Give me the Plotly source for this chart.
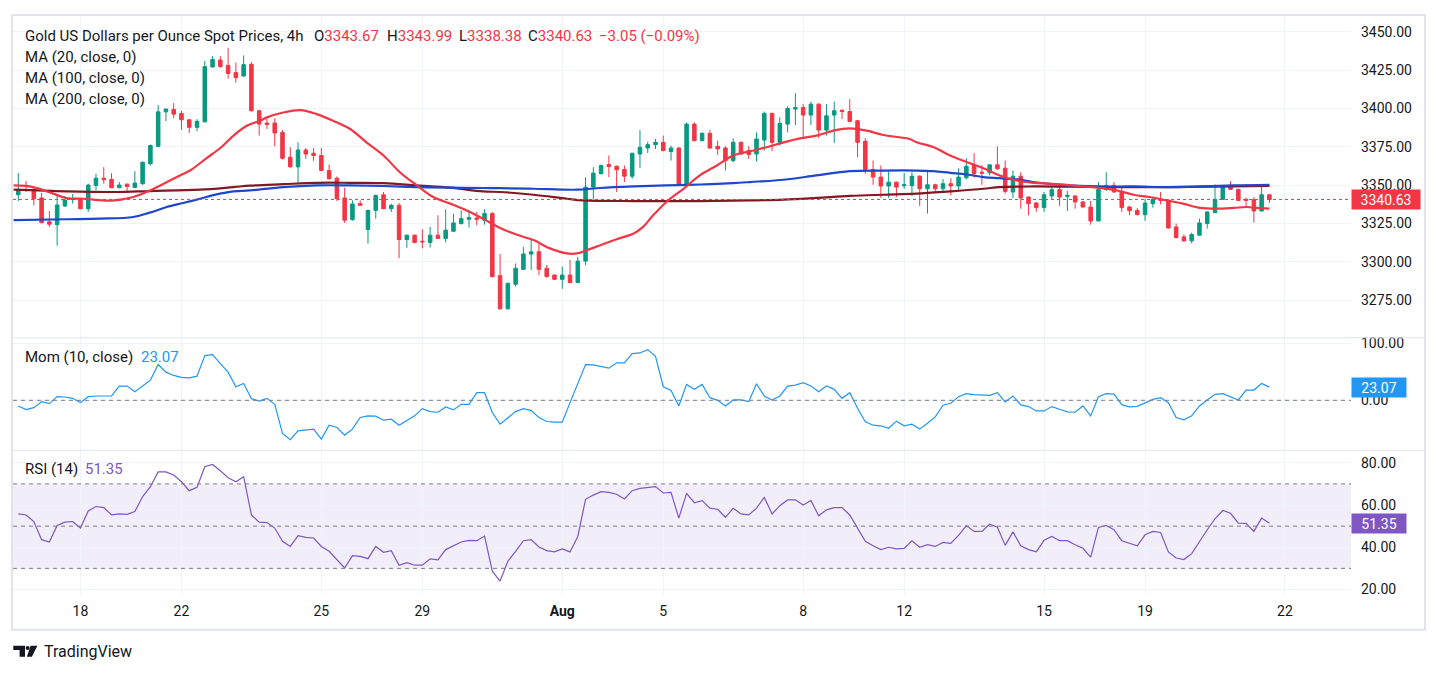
import plotly.graph_objects as go

# ---- candles, 4h, Jul 16 -> Aug 21 (index = bar number) ----
opens = [
    3343.7, 3349.8, 3347.2, 3341.6, 3326.0, 3324.2, 3336.4, 3340.5, 3340.9, 3334.6,
    3349.8, 3354.5, 3353.7, 3348.3, 3350.6, 3348.5, 3350.9, 3363.9, 3375.3, 3397.8,
    3399.4, 3396.8, 3392.6, 3387.7, 3391.3, 3427.1, 3431.6, 3428.1, 3423.4, 3421.2,
    3428.8, 3398.5, 3390.5, 3390.5, 3384.4, 3368.2, 3361.9, 3372.9, 3370.8, 3369.3,
    3359.5, 3354.5, 3341.6, 3327.5, 3337.9, 3321.0, 3333.5, 3343.7, 3334.6, 3336.8,
    3314.5, 3317.3, 3313.4, 3312.6, 3317.3, 3315.2, 3319.9, 3324.9, 3327.7, 3328.6,
    3327.1, 3331.4, 3290.9, 3269.3, 3285.3, 3295.0, 3305.0, 3306.5, 3295.7, 3291.3,
    3288.5, 3291.3, 3286.4, 3300.4, 3348.7, 3357.4, 3363.4, 3362.3, 3360.2, 3355.8,
    3370.3, 3374.2, 3376.4, 3377.9, 3371.9, 3374.2, 3350.9, 3389.8, 3379.0, 3383.8,
    3375.3, 3374.2, 3366.0, 3377.9, 3372.5, 3370.3, 3379.4, 3396.8, 3377.9, 3389.8,
    3399.6, 3400.6, 3395.7, 3402.8, 3385.9, 3395.7, 3398.9, 3398.0, 3392.0, 3378.6,
    3360.2, 3355.2, 3349.4, 3351.9, 3349.6, 3349.6, 3355.8, 3347.6, 3350.2, 3347.6,
    3350.9, 3349.4, 3354.8, 3363.2, 3358.4, 3358.0, 3363.2, 3361.0, 3345.5, 3355.8,
    3342.2, 3338.3, 3335.3, 3342.9, 3347.0, 3342.6, 3342.9, 3339.0, 3335.7, 3326.6,
    3347.2, 3349.8, 3345.9, 3335.7, 3333.5, 3330.7, 3337.9, 3340.7, 3340.0, 3322.7,
    3316.2, 3313.6, 3317.3, 3324.9, 3332.0, 3340.7, 3349.8, 3347.2, 3340.7, 3340.5,
    3333.1, 3343.67]
highs = [
    3357.8, 3352.6, 3348.7, 3345.0, 3333.1, 3342.9, 3342.9, 3344.2, 3341.6, 3350.9,
    3357.4, 3361.7, 3357.8, 3352.0, 3351.0, 3359.1, 3365.4, 3376.5, 3402.2, 3400.0,
    3403.5, 3398.5, 3393.0, 3393.0, 3431.0, 3434.2, 3434.2, 3439.6, 3429.9, 3434.6,
    3430.3, 3399.2, 3393.1, 3393.5, 3385.9, 3374.7, 3377.9, 3374.2, 3374.2, 3374.2,
    3363.4, 3355.6, 3348.3, 3340.0, 3340.0, 3333.9, 3343.7, 3345.5, 3337.9, 3338.3,
    3317.7, 3317.7, 3321.2, 3322.7, 3330.3, 3334.2, 3331.4, 3333.5, 3333.5, 3332.5,
    3334.2, 3332.5, 3305.0, 3286.3, 3298.9, 3309.7, 3314.7, 3311.5, 3297.8, 3291.7,
    3296.8, 3301.1, 3303.2, 3355.2, 3361.7, 3363.4, 3369.3, 3362.8, 3362.8, 3371.0,
    3385.9, 3378.4, 3380.1, 3382.3, 3375.8, 3374.7, 3390.9, 3390.9, 3384.4, 3386.0,
    3379.0, 3375.3, 3380.5, 3378.4, 3375.3, 3384.4, 3398.0, 3397.2, 3394.2, 3401.3,
    3410.0, 3402.8, 3404.5, 3403.5, 3402.8, 3404.5, 3399.2, 3406.1, 3392.4, 3380.7,
    3366.0, 3362.8, 3358.9, 3352.3, 3357.8, 3358.4, 3356.3, 3359.5, 3350.9, 3354.1,
    3354.5, 3361.0, 3367.5, 3370.8, 3363.0, 3363.4, 3375.3, 3366.0, 3359.5, 3358.4,
    3342.6, 3339.0, 3345.5, 3349.8, 3348.7, 3346.1, 3343.3, 3339.6, 3339.6, 3351.9,
    3358.4, 3352.0, 3349.4, 3336.4, 3335.0, 3341.1, 3342.2, 3345.5, 3340.7, 3324.9,
    3317.7, 3319.0, 3328.1, 3332.9, 3350.4, 3349.8, 3352.6, 3347.6, 3341.8, 3342.2,
    3348.7, 3343.99]
lows = [
    3339.6, 3345.5, 3336.8, 3325.0, 3322.7, 3310.4, 3335.7, 3337.9, 3334.2, 3332.5,
    3346.5, 3350.9, 3348.1, 3348.0, 3345.9, 3348.0, 3350.2, 3362.8, 3374.7, 3391.8,
    3393.7, 3385.9, 3384.0, 3385.1, 3390.9, 3426.6, 3426.6, 3419.5, 3416.9, 3420.8,
    3398.0, 3382.3, 3386.6, 3375.3, 3366.7, 3361.5, 3351.9, 3367.1, 3365.8, 3359.1,
    3353.7, 3339.6, 3325.3, 3326.6, 3336.4, 3311.9, 3328.1, 3334.2, 3332.5, 3302.2,
    3309.1, 3312.0, 3308.7, 3309.3, 3314.8, 3312.6, 3319.5, 3324.2, 3322.3, 3323.8,
    3324.2, 3289.6, 3268.6, 3268.6, 3283.8, 3294.6, 3294.6, 3291.3, 3289.6, 3288.1,
    3282.3, 3285.9, 3285.9, 3297.8, 3340.9, 3357.0, 3355.2, 3345.5, 3352.0, 3354.1,
    3361.3, 3371.0, 3373.6, 3372.1, 3366.0, 3350.4, 3350.2, 3378.6, 3378.6, 3373.6,
    3369.7, 3359.5, 3364.9, 3369.7, 3367.1, 3365.4, 3372.5, 3372.1, 3375.8, 3384.4,
    3389.2, 3381.2, 3389.2, 3380.7, 3382.3, 3377.5, 3393.1, 3391.0, 3368.2, 3357.4,
    3350.2, 3341.6, 3341.6, 3342.2, 3347.6, 3342.9, 3336.4, 3331.4, 3345.5, 3345.9,
    3343.3, 3345.9, 3353.7, 3354.8, 3350.2, 3356.3, 3359.9, 3344.4, 3341.6, 3334.6,
    3330.3, 3332.5, 3332.5, 3340.9, 3336.4, 3333.1, 3334.6, 3335.3, 3324.2, 3326.4,
    3346.1, 3345.0, 3332.5, 3330.3, 3330.3, 3326.6, 3335.3, 3337.4, 3321.6, 3315.2,
    3313.0, 3311.9, 3317.0, 3321.6, 3331.8, 3340.5, 3346.9, 3339.6, 3336.4, 3325.5,
    3332.9, 3338.38]
closes = [
    3347.2, 3349.1, 3341.1, 3325.5, 3324.5, 3337.0, 3340.3, 3341.1, 3334.6, 3350.0,
    3354.5, 3353.5, 3348.3, 3350.0, 3349.1, 3351.3, 3364.9, 3375.8, 3397.8, 3399.6,
    3396.3, 3392.6, 3387.7, 3391.6, 3427.3, 3432.0, 3427.3, 3422.9, 3420.1, 3428.6,
    3398.5, 3389.8, 3389.6, 3384.0, 3367.5, 3361.9, 3372.9, 3370.3, 3369.3, 3359.5,
    3354.1, 3341.1, 3327.1, 3337.7, 3336.8, 3333.5, 3343.3, 3334.6, 3336.8, 3314.5,
    3317.3, 3312.6, 3313.0, 3317.3, 3315.2, 3320.6, 3325.3, 3328.1, 3328.8, 3327.7,
    3331.4, 3290.3, 3269.3, 3285.9, 3295.7, 3305.0, 3306.5, 3295.0, 3290.3, 3288.5,
    3291.3, 3286.4, 3300.4, 3348.7, 3357.8, 3362.8, 3362.1, 3360.0, 3355.8, 3370.8,
    3374.7, 3376.4, 3377.9, 3372.5, 3374.2, 3350.9, 3389.8, 3379.0, 3383.8, 3374.2,
    3373.6, 3366.0, 3377.9, 3370.3, 3370.0, 3380.1, 3396.8, 3377.9, 3390.3, 3400.0,
    3400.6, 3395.7, 3402.8, 3385.9, 3395.2, 3398.5, 3398.0, 3391.6, 3377.9, 3360.2,
    3355.2, 3349.4, 3351.9, 3348.7, 3350.2, 3355.8, 3347.6, 3350.2, 3347.6, 3350.9,
    3349.4, 3355.2, 3362.3, 3357.4, 3357.8, 3363.2, 3360.6, 3345.9, 3355.8, 3341.6,
    3337.9, 3335.3, 3343.7, 3347.0, 3342.2, 3343.3, 3339.0, 3335.7, 3326.6, 3347.2,
    3349.8, 3345.5, 3335.3, 3333.3, 3330.7, 3338.3, 3340.7, 3340.0, 3322.0, 3315.8,
    3313.6, 3317.7, 3325.3, 3332.5, 3340.7, 3349.4, 3347.2, 3340.0, 3340.0, 3333.1,
    3343.68, 3340.63]

# ---- moving averages at bar positions ----
ma20_x = [-0.6, 1.9, 4.5, 6.2, 8.4, 12, 14.8, 16.5, 19.1, 20.8, 22.1, 24.2, 26, 27.7,
          29.4, 31.1, 32, 34.1, 36.3, 38.4, 40.5, 42.7, 44.8, 47, 49.1, 51.3, 53.4,
          55.6, 57.7, 59.8, 62, 64.1, 66.3, 68.4, 70.6, 71.9, 73.2, 74.9, 77, 79.2,
          80.4, 81.7, 83.4, 85.6, 87.7, 89.9, 92, 94.1, 96.3, 98.5, 100.6, 102.7,
          104.9, 107, 109.2, 111.3, 113.4, 114.7, 115.6, 117.8, 119.9, 122.1, 124.2,
          126.3, 128.5, 130.6, 132.8, 134.9, 137.1, 139.2, 141.4, 143.5, 145.6,
          147.8, 149.9, 152.1, 154.2, 156.4, 158.1, 159.4, 161]
ma20_y = [3349.8, 3348.7, 3344.4, 3341.6, 3341.1, 3339.8, 3342.2, 3345.5, 3351.9,
          3356.3, 3359.5, 3367.5, 3374.2, 3382.3, 3388.7, 3392.0, 3394.2, 3397.4,
          3398.9, 3396.3, 3392.0, 3386.6, 3377.9, 3369.3, 3358.4, 3349.8, 3342.2,
          3337.9, 3333.5, 3328.1, 3322.0, 3317.7, 3314.1, 3308.7, 3305.4, 3305.4,
          3307.6, 3310.8, 3314.7, 3318.4, 3322.7, 3330.3, 3339.0, 3347.6, 3356.3,
          3362.8, 3369.3, 3372.0, 3374.7, 3377.9, 3380.5, 3382.3, 3385.5, 3387.0,
          3385.5, 3382.7, 3381.2, 3380.1, 3377.9, 3374.7, 3369.3, 3364.9, 3361.0,
          3356.3, 3353.0, 3351.5, 3350.9, 3350.2, 3349.1, 3348.1, 3346.5, 3343.7,
          3342.2, 3340.0, 3337.9, 3335.1, 3334.6, 3335.1, 3335.7, 3335.1, 3334.6]
ma100_x = [-0.6, 6.2, 10.5, 14.8, 16.9, 19.1, 21.2, 23.4, 25.5, 27.7, 29.8, 34.1, 38.4,
           42.7, 47, 51.3, 55.6, 59.8, 62, 66.3, 71.9, 74.9, 79.2, 83.4, 87.7, 92,
           94.2, 98.5, 102.7, 107, 111.3, 115.6, 117.8, 119.9, 122.1, 124.2, 126.3,
           128.5, 130.6, 134.9, 139.2, 143.5, 147.8, 152.1, 156.4, 161]
ma100_y = [3327.1, 3327.7, 3328.1, 3329.2, 3332.0, 3335.7, 3338.3, 3341.1, 3343.9,
           3345.9, 3346.5, 3348.7, 3349.8, 3349.8, 3349.4, 3348.7, 3348.3, 3348.1,
           3348.0, 3347.6, 3347.0, 3348.1, 3349.1, 3349.8, 3350.4, 3351.3, 3352.0,
           3353.5, 3356.3, 3359.1, 3359.5, 3359.5, 3359.1, 3358.0, 3356.9, 3355.2,
           3354.5, 3353.7, 3352.0, 3349.8, 3349.1, 3349.1, 3348.7, 3349.1, 3349.8,
           3350.2]
ma200_x = [-0.6, 6.2, 12.6, 16.9, 23.4, 27.7, 29.8, 34.1, 38.4, 42.7, 47, 51.3, 55.6,
           59.8, 62, 66.3, 70.6, 72.7, 79.2, 87.7, 94.2, 98.5, 102.7, 107, 111.3,
           115.6, 119.9, 124.2, 126.3, 130.6, 139.2, 147.8, 156.4, 161]
ma200_y = [3347.0, 3345.9, 3345.5, 3346.1, 3347.0, 3348.7, 3349.6, 3350.6, 3351.5,
           3351.5, 3351.3, 3349.8, 3348.3, 3345.9, 3345.5, 3343.7, 3341.1, 3340.0,
           3339.6, 3339.6, 3340.0, 3340.5, 3341.6, 3342.9, 3343.7, 3344.4, 3345.9,
           3347.6, 3348.7, 3349.1, 3348.7, 3348.7, 3349.1, 3349.4]

# ---- indicators, one value per bar ----
mom = [
    -9.9, -16.3, -12.8, -2.3, -5.8, 6.4, 5.8, 3.5, -4.1, 6.4,
    7.6, 7.6, 7.6, 25.0, 25.0, 15.1, 25.0, 35.4, 62.7, 49.4,
    43.6, 40.1, 39.5, 42.4, 78.4, 80.2, 64.5, 49.4, 23.8, 29.6,
    2.9, -1.2, 3.5, -7.0, -58.1, -69.1, -53.5, -51.7, -50.5, -68.0,
    -43.6, -47.6, -61.0, -50.5, -30.2, -27.3, -27.9, -34.9, -33.1, -43.6,
    -36.0, -27.3, -14.5, -19.8, -20.9, -11.6, -16.8, -7.0, -7.0, 13.4,
    13.4, -21.5, -41.8, -30.2, -19.8, -14.5, -18.0, -30.2, -37.2, -38.3,
    -38.3, -4.1, 30.8, 62.7, 62.2, 58.7, 56.4, 65.7, 65.7, 81.9,
    83.1, 88.9, 77.3, 23.8, 17.4, -9.9, 27.9, 19.2, 27.9, 4.6,
    0.0, -9.9, 0.6, 0.6, -2.3, 29.0, 7.6, 0.6, 7.6, 25.0,
    26.7, 30.8, 25.0, 15.1, 25.0, 19.2, 3.5, 13.4, -13.9, -37.8,
    -43.6, -44.7, -49.0, -36.6, -44.7, -41.8, -50.5, -40.1, -29.1, -8.7,
    -5.2, 6.4, 11.6, 9.9, 9.3, 8.7, 13.4, -2.9, 7.6, -8.1,
    -11.0, -18.6, -18.6, -11.0, -15.7, -20.3, -20.9, -9.9, -27.3, 6.4,
    11.6, 11.0, -7.6, -11.6, -10.5, -4.1, 1.7, 4.6, -4.1, -30.2,
    -34.3, -27.3, -9.9, 0.6, 10.5, 11.6, 6.4, 0.6, 18.0, 18.0,
    29.6, 23.07]
rsi = [
    55.8, 55.3, 52.2, 43.6, 42.5, 50.3, 51.9, 52.2, 49.1, 57.2,
    59.3, 58.8, 55.3, 55.8, 55.6, 56.9, 64.0, 68.7, 75.7, 75.7,
    74.2, 71.0, 66.8, 68.4, 78.1, 79.2, 76.2, 72.9, 71.0, 73.4,
    55.3, 51.9, 51.7, 49.1, 42.8, 40.4, 45.5, 44.7, 44.4, 40.4,
    38.1, 34.2, 30.2, 36.0, 35.7, 34.6, 40.4, 37.6, 38.4, 31.5,
    32.7, 31.5, 31.5, 34.5, 34.0, 38.9, 40.9, 42.5, 43.3, 43.1,
    45.3, 28.7, 24.0, 33.4, 38.1, 43.1, 43.6, 40.1, 38.4, 37.8,
    39.2, 37.8, 45.1, 62.7, 64.7, 66.3, 66.0, 65.1, 62.9, 66.8,
    67.9, 68.4, 68.7, 65.7, 66.0, 53.8, 65.5, 61.1, 62.1, 58.5,
    58.0, 54.2, 58.5, 55.8, 55.3, 58.5, 63.6, 55.8, 59.7, 62.4,
    62.5, 60.0, 62.1, 54.9, 57.7, 58.8, 58.8, 55.3, 49.1, 42.8,
    40.7, 38.9, 40.0, 39.2, 39.5, 43.1, 40.0, 41.2, 40.4, 42.3,
    41.8, 45.6, 50.3, 47.5, 47.5, 50.9, 49.5, 40.9, 47.3, 40.7,
    38.9, 37.8, 43.3, 45.1, 43.1, 43.1, 41.2, 39.5, 35.3, 49.4,
    50.3, 48.3, 43.1, 42.0, 40.7, 45.9, 47.5, 47.0, 37.8, 34.9,
    34.2, 37.0, 42.8, 48.3, 53.5, 57.4, 56.1, 51.4, 51.3, 47.5,
    53.8, 51.35]

day_ticks = [8, 21, 39, 52, 70, 83, 101, 114, 132, 145, 163]
day_labels = ["18", "22", "25", "29", "<b>Aug</b>", "5", "8", "12", "15", "19", "22"]
price_ticks = [3275, 3300, 3325, 3350, 3375, 3400, 3425, 3450]
rsi_ticks = [20, 40, 60, 80]

bars = list(range(len(closes)))

UP = "#089981"
DOWN = "#f23645"
TXT = "#131722"
GRID = "#f0f3fa"
BORDER = "#e0e3eb"
FONT = "Roboto, Noto Sans, sans-serif"

# the page puts the figure 8px in from the corner, so the figure is a bit smaller
OFF = 8
W, H = 1439 - 2 * OFF, 674 - 2 * OFF

# plot area in page pixels, used to place text and frame
L, R, T, B = 13, 1351, 12, 595
def px(x):
    return (x - L) / (R - L)
def py(y):
    return (B - y) / (B - T)

fig = go.Figure()

fig.add_trace(go.Candlestick(
    x=bars, open=opens, high=highs, low=lows, close=closes,
    xaxis="x", yaxis="y", whiskerwidth=0,
    increasing=dict(line=dict(color=UP, width=1), fillcolor=UP),
    decreasing=dict(line=dict(color=DOWN, width=1), fillcolor=DOWN),
    hoverinfo="skip"))

fig.add_trace(go.Scatter(x=ma200_x, y=ma200_y, mode="lines", xaxis="x", yaxis="y",
                         line=dict(color="#801922", width=2.2, shape="spline")))
fig.add_trace(go.Scatter(x=ma100_x, y=ma100_y, mode="lines", xaxis="x", yaxis="y",
                         line=dict(color="#1f47cc", width=2.2, shape="spline")))
fig.add_trace(go.Scatter(x=ma20_x, y=ma20_y, mode="lines", xaxis="x", yaxis="y",
                         line=dict(color="#f23645", width=2.2, shape="spline")))

fig.add_trace(go.Scatter(x=bars, y=mom, mode="lines", xaxis="x2", yaxis="y2",
                         line=dict(color="#2196f3", width=1.2)))
fig.add_trace(go.Scatter(x=bars, y=rsi, mode="lines", xaxis="x3", yaxis="y3",
                         line=dict(color="#7e57c2", width=1.2)))

xcommon = dict(tickvals=day_ticks, showgrid=True, gridcolor=GRID, zeroline=False,
               showline=False, ticks="", domain=[0, 1])
ycommon = dict(side="right", showgrid=True, gridcolor=GRID, zeroline=False,
               showline=False, ticks="", tickfont=dict(size=14, color=TXT),
               ticklabelstandoff=9)

fig.update_layout(
    width=W, height=H,
    margin=dict(l=L - OFF, r=W - (R - OFF), t=T - OFF, b=H - (B - OFF)),
    paper_bgcolor="white", plot_bgcolor="white",
    font=dict(family=FONT, color=TXT),
    showlegend=False, hovermode=False, boxgap=0.35,
    xaxis=dict(xcommon, anchor="y", matches="x3", showticklabels=False,
               rangeslider=dict(visible=False)),
    xaxis2=dict(xcommon, anchor="y2", matches="x3", showticklabels=False),
    xaxis3=dict(xcommon, anchor="y3", range=[-0.68, 171.5], ticktext=day_labels,
                tickfont=dict(size=14, color=TXT), ticklabelstandoff=6),
    yaxis=dict(ycommon, domain=[py(336), 1], anchor="x", range=[3250.65, 3461.0],
               tickvals=price_ticks, tickformat=".2f"),
    yaxis2=dict(ycommon, domain=[py(449), py(337)], anchor="x2", range=[-86.7, 108.7],
                tickvals=[0, 100], ticktext=["0.00", "100.00"]),
    yaxis3=dict(ycommon, domain=[0, py(450)], anchor="x3", range=[17.4, 85.7],
                tickvals=rsi_ticks, tickformat=".2f"),
)

dash_gray = dict(color="#787b86", width=1, dash="4px,4px")
shapes = [
    dict(type="rect", xref="paper", yref="y3", x0=0, x1=1, y0=30, y1=70,
         fillcolor="rgba(126,87,194,0.1)", line=dict(width=0), layer="below"),
    dict(type="line", xref="paper", yref="y3", x0=0, x1=1, y0=70, y1=70, line=dash_gray),
    dict(type="line", xref="paper", yref="y3", x0=0, x1=1, y0=50, y1=50, line=dash_gray),
    dict(type="line", xref="paper", yref="y3", x0=0, x1=1, y0=30, y1=30, line=dash_gray),
    dict(type="line", xref="paper", yref="y2", x0=0, x1=1, y0=0, y1=0, line=dash_gray),
    dict(type="line", xref="paper", yref="y", x0=0, x1=1, y0=closes[-1], y1=closes[-1],
         line=dict(color=DOWN, width=1, dash="dot")),
    # pane separators and outer frame
    dict(type="line", xref="paper", yref="paper", x0=px(12), x1=px(1425),
         y0=py(336.5), y1=py(336.5), line=dict(color=BORDER, width=1)),
    dict(type="line", xref="paper", yref="paper", x0=px(12), x1=px(1425),
         y0=py(449.5), y1=py(449.5), line=dict(color=BORDER, width=1)),
    dict(type="rect", xref="paper", yref="paper", x0=px(12), x1=px(1425),
         y0=py(630), y1=py(12), line=dict(color=BORDER, width=2)),
]

# TradingView logo
def path(points):
    return "M" + " L".join(f"{px(a):.5f},{py(b):.5f}" for a, b in points) + " Z"

shapes.append(dict(type="path", xref="paper", yref="paper", fillcolor=TXT, line=dict(width=0),
                   path=path([(13.3, 646), (25, 646), (25, 657), (19.6, 657),
                              (19.6, 650.3), (13.3, 650.3)])))
shapes.append(dict(type="path", xref="paper", yref="paper", fillcolor=TXT, line=dict(width=0),
                   path=path([(30.6, 646), (37.4, 646), (31.9, 657), (26.9, 657)])))
shapes.append(dict(type="circle", xref="paper", yref="paper", fillcolor=TXT,
                   line=dict(width=0), x0=px(25.6), x1=px(29.6), y0=py(650.3), y1=py(646.3)))
fig.update_layout(shapes=shapes)

red = lambda s: f"<span style='color:{DOWN}'>{s}</span>"
chg = closes[-1] - closes[-2]
pct = chg / closes[-2] * 100
notes = [
    (23, 33, "Gold US Dollars per Ounce Spot Prices, 4h", 15),
    (312, 33, "O" + red(f"{opens[-1]:.2f}"), 15),
    (385, 33, "H" + red(f"{highs[-1]:.2f}"), 15),
    (457, 33, "L" + red(f"{lows[-1]:.2f}"), 15),
    (526, 33, "C" + red(f"{closes[-1]:.2f}"), 15),
    (597, 33, red(f"{chg:.2f} ({pct:.2f}%)".replace("-", "−")), 15),
    (23, 54, "MA (20, close, 0)", 15),
    (23, 75, "MA (100, close, 0)", 15),
    (23, 96, "MA (200, close, 0)", 15),
    (23, 356, "Mom (10, close)", 15),
    (139, 356, f"<span style='color:#2196f3'>{mom[-1]:.2f}</span>", 15),
    (23, 468, "RSI (14)", 15),
    (83, 468, f"<span style='color:#7e57c2'>{rsi[-1]:.2f}</span>", 15),
    (42, 652, "TradingView", 16),
]
annotations = []
for x, y, t, s in notes:
    annotations.append(dict(xref="paper", yref="paper", x=px(x), y=py(y), text=t,
                            showarrow=False, xanchor="left", yanchor="middle",
                            font=dict(size=s, color=TXT, family=FONT)))

# last-value tags on the right scale
for yref, val, col, w in [("y", closes[-1], DOWN, 64), ("y2", mom[-1], "#2196f3", 50),
                          ("y3", rsi[-1], "#7e57c2", 50)]:
    annotations.append(dict(xref="paper", yref=yref, x=1, y=val, text=f"{val:.2f}",
                            showarrow=False, xanchor="left", yanchor="middle",
                            bgcolor=col, width=w, height=15, borderpad=2, align="center",
                            font=dict(size=14, color="white", family=FONT)))
fig.update_layout(annotations=annotations)

fig.write_html("out.html")
